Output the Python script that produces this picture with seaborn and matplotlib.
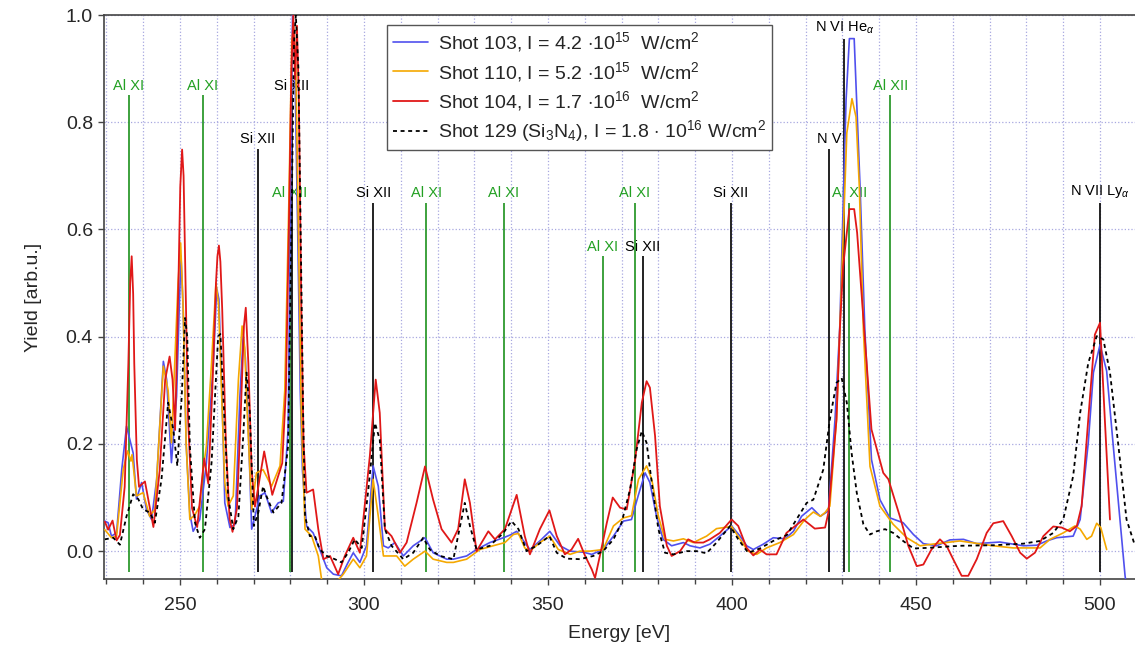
import seaborn as sns
import matplotlib.pyplot as plt
from matplotlib.ticker import MultipleLocator

# Spectra (energy in eV, yield in arb.u.)
blue_x = [229.6, 230.5, 231.4, 232.8, 234.2, 235.5, 236.4, 237.3, 238.2, 239.6, 240.9, 242.3, 243.7, 245.5,
          246.4, 247.7, 249.1, 249.8, 250.3, 250.9, 251.7, 252.7, 253.6, 255.4, 257.2, 259.1, 260.0, 260.6,
          261.4, 262.2, 263.6, 265.0, 266.3, 267.2, 267.8, 268.6, 269.5, 270.4, 271.7, 273.1, 274.9, 276.7,
          278.1, 279.4, 280.0, 280.6, 281.2, 282.0, 282.7, 283.3, 284.4, 286.2, 288.0, 289.9, 291.7, 293.9,
          295.7, 297.1, 298.9, 300.7, 302.5, 303.9, 305.3, 306.6, 308.4, 310.7, 313.4, 316.6, 318.8, 322.5,
          324.3, 327.9, 330.6, 334.2, 337.9, 339.7, 341.5, 343.7, 345.1, 347.8, 350.5, 353.3, 356.0, 359.6,
          361.9, 365.0, 367.8, 370.5, 372.7, 374.5, 376.4, 377.7, 379.5, 381.3, 383.6, 386.8, 388.6, 391.3,
          394.0, 396.7, 399.9, 402.2, 404.0, 405.8, 408.5, 411.2, 414.4, 416.7, 418.9, 421.7, 424.0, 426.2,
          428.0, 429.3, 431.0, 431.9, 433.2, 434.8, 436.1, 437.9, 440.2, 442.9, 446.5, 449.3, 452.0, 455.6,
          459.2, 462.9, 466.5, 472.8, 479.2, 482.8, 485.5, 488.2, 492.7, 494.6, 496.8, 498.2, 500.0, 501.8,
          503.6, 505.4, 506.8, 507.3]
blue_y = [0.056, 0.053, 0.028, 0.034, 0.152, 0.233, 0.208, 0.183, 0.097, 0.128, 0.078, 0.059, 0.134, 0.354,
          0.32, 0.165, 0.289, 0.45, 0.55, 0.45, 0.2, 0.07, 0.037, 0.059, 0.165, 0.351, 0.49, 0.47,
          0.3, 0.09, 0.044, 0.05, 0.289, 0.40, 0.36, 0.227, 0.041, 0.065, 0.103, 0.109, 0.072, 0.09,
          0.093, 0.227, 0.6, 1.0, 0.92, 0.6, 0.3, 0.15, 0.047, 0.034, 0.003, -0.031, -0.043, -0.046,
          -0.021, -0.003, -0.021, 0.01, 0.159, 0.121, 0.01, 0.006, 0.016, -0.009, 0.01, 0.025, -0.003, -0.015,
          -0.015, -0.009, 0.003, 0.016, 0.025, 0.03, 0.037, 0.016, 0.003, 0.019, 0.037, 0.01, 0.0, -0.002,
          -0.006, 0.003, 0.028, 0.056, 0.059, 0.103, 0.146, 0.128, 0.065, 0.022, 0.01, 0.016, 0.01, 0.006,
          0.013, 0.028, 0.047, 0.028, 0.01, 0.003, 0.013, 0.025, 0.023, 0.037, 0.065, 0.081, 0.065, 0.075,
          0.246, 0.42, 0.842, 0.956, 0.956, 0.68, 0.413, 0.171, 0.096, 0.062, 0.053, 0.031, 0.014, 0.01,
          0.021, 0.022, 0.014, 0.017, 0.01, 0.011, 0.019, 0.025, 0.028, 0.059, 0.202, 0.333, 0.385, 0.336,
          0.196, 0.059, -0.046, -0.07]

orange_x = [229.6, 231.4, 232.8, 234.6, 235.8, 236.7, 237.0, 238.2, 240.0, 241.8, 243.2, 245.5, 246.8, 247.7,
            248.6, 249.5, 250.2, 250.9, 251.7, 252.7, 254.1, 255.4, 256.3, 257.2, 258.6, 259.8, 260.5, 261.3,
            262.2, 263.1, 264.5, 265.9, 266.9, 267.6, 268.1, 269.5, 270.8, 272.6, 274.9, 277.2, 278.5, 279.6,
            280.4, 280.9, 281.5, 282.2, 283.0, 284.0, 285.8, 287.6, 288.5, 291.0, 294.4, 297.1, 298.9, 300.7,
            302.5, 303.9, 305.3, 308.9, 311.1, 313.4, 316.6, 318.8, 322.5, 324.3, 327.9, 331.5, 335.1, 338.3,
            340.6, 342.0, 343.7, 345.1, 347.8, 350.5, 352.8, 356.0, 358.7, 361.4, 365.0, 367.8, 370.5, 372.7,
            374.6, 376.8, 378.2, 380.0, 381.8, 384.1, 386.8, 389.5, 393.1, 395.8, 399.9, 402.2, 404.4, 406.7,
            409.4, 413.0, 416.7, 419.8, 422.1, 424.0, 425.3, 426.6, 428.4, 429.5, 431.2, 432.6, 433.7, 434.6,
            435.7, 437.5, 440.2, 443.8, 447.5, 451.1, 455.6, 461.9, 471.0, 476.4, 483.7, 486.4, 490.0, 493.2,
            494.6, 496.4, 497.7, 499.1, 500.2, 501.8]
orange_y = [0.04, 0.025, 0.028, 0.152, 0.187, 0.168, 0.18, 0.103, 0.109, 0.065, 0.078, 0.345, 0.30, 0.202,
            0.35, 0.5, 0.575, 0.45, 0.2, 0.059, 0.068, 0.084, 0.152, 0.196, 0.351, 0.5, 0.46, 0.3,
            0.128, 0.084, 0.103, 0.32, 0.42, 0.38, 0.289, 0.078, 0.146, 0.152, 0.121, 0.159, 0.3, 0.65,
            0.95, 0.98, 0.9, 0.6, 0.25, 0.041, 0.028, -0.009, -0.053, -0.07, -0.043, -0.015, -0.031, -0.009,
            0.134, 0.065, -0.009, -0.009, -0.028, -0.015, 0.0, -0.015, -0.021, -0.021, -0.015, 0.003, 0.01, 0.016,
            0.031, 0.033, 0.006, 0.0, 0.016, 0.028, 0.003, -0.006, 0.0, 0.0, 0.003, 0.047, 0.062, 0.066,
            0.134, 0.159, 0.134, 0.065, 0.022, 0.019, 0.023, 0.016, 0.028, 0.042, 0.046, 0.022, 0.0, -0.006,
            0.006, 0.016, 0.031, 0.059, 0.073, 0.065, 0.072, 0.084, 0.246, 0.45, 0.78, 0.844, 0.81, 0.68,
            0.413, 0.158, 0.084, 0.05, 0.025, 0.01, 0.014, 0.019, 0.01, 0.006, 0.006, 0.022, 0.034, 0.047,
            0.041, 0.022, 0.028, 0.052, 0.044, 0.003]

red_x = [229.6, 230.5, 231.7, 232.8, 233.7, 235.0, 236.0, 236.5, 236.9, 237.3, 237.6, 238.3, 238.9, 240.5,
         242.8, 244.5, 246.0, 247.2, 248.0, 248.7, 249.6, 250.1, 250.6, 251.0, 251.4, 252.2, 253.3, 254.7,
         256.6, 257.7, 258.8, 259.8, 260.2, 260.6, 261.0, 261.5, 262.5, 263.5, 264.3, 265.5, 266.5, 267.4,
         267.9, 268.6, 269.5, 270.4, 272.9, 275.1, 277.8, 278.8, 279.6, 280.3, 280.8, 281.3, 281.8, 282.3,
         283.0, 283.6, 284.4, 286.2, 287.6, 289.0, 290.8, 293.0, 294.8, 297.1, 298.9, 301.6, 303.2, 304.3,
         305.7, 307.5, 309.8, 311.6, 314.3, 316.6, 318.8, 321.1, 323.8, 325.6, 327.4, 328.8, 330.6, 333.8,
         335.6, 338.3, 341.5, 343.7, 345.1, 347.8, 350.4, 352.4, 354.6, 356.4, 358.2, 360.1, 361.9, 362.8,
         364.1, 366.0, 367.6, 369.6, 371.4, 373.6, 375.5, 376.8, 377.7, 379.1, 380.4, 382.3, 383.6, 385.9,
         388.1, 389.9, 392.2, 394.0, 396.7, 399.9, 401.7, 404.0, 405.8, 407.6, 409.4, 412.1, 414.8, 419.4,
         422.5, 425.3, 426.2, 428.4, 429.3, 430.2, 431.9, 433.2, 434.0, 435.0, 435.7, 437.9, 441.1, 442.5,
         445.6, 447.9, 450.2, 452.0, 454.2, 456.5, 458.3, 460.1, 462.4, 464.2, 466.5, 469.2, 471.0, 473.7,
         476.0, 478.3, 480.1, 482.3, 484.6, 487.3, 489.6, 491.8, 493.7, 495.0, 496.8, 498.6, 500.0, 501.3,
         502.7]
red_y = [0.055, 0.04, 0.057, 0.02, 0.03, 0.12, 0.35, 0.50, 0.55, 0.48, 0.35, 0.17, 0.12, 0.13,
         0.045, 0.15, 0.32, 0.363, 0.32, 0.226, 0.5, 0.68, 0.749, 0.70, 0.55, 0.25, 0.08, 0.045,
         0.173, 0.126, 0.3, 0.5, 0.55, 0.57, 0.54, 0.45, 0.2, 0.06, 0.036, 0.08, 0.25, 0.42,
         0.454, 0.35, 0.15, 0.083, 0.186, 0.105, 0.164, 0.3, 0.6, 0.9, 1.0, 0.88, 0.98, 0.85,
         0.45, 0.2, 0.109, 0.115, 0.041, -0.015, -0.009, -0.043, -0.009, 0.025, -0.003, 0.177, 0.32, 0.258,
         0.041, 0.028, -0.003, 0.016, 0.09, 0.158, 0.096, 0.041, 0.016, 0.041, 0.134, 0.09, 0.0, 0.037,
         0.022, 0.041, 0.105, 0.028, -0.006, 0.041, 0.076, 0.028, -0.006, 0.003, 0.023, -0.009, -0.034, -0.05,
         -0.009, 0.053, 0.10, 0.081, 0.078, 0.165, 0.277, 0.317, 0.305, 0.215, 0.084, 0.01, -0.009, 0.0,
         0.022, 0.016, 0.016, 0.022, 0.034, 0.059, 0.047, 0.006, -0.008, 0.003, -0.006, -0.006, 0.034, 0.059,
         0.042, 0.044, 0.072, 0.246, 0.413, 0.531, 0.638, 0.638, 0.594, 0.50, 0.432, 0.227, 0.146, 0.134,
         0.065, 0.01, -0.028, -0.025, 0.003, 0.022, 0.01, -0.015, -0.046, -0.046, -0.015, 0.034, 0.052, 0.056,
         0.028, -0.003, -0.014, -0.003, 0.028, 0.046, 0.044, 0.037, 0.047, 0.084, 0.246, 0.404, 0.426, 0.246,
         0.059]

black_x = [229.6, 231.9, 233.7, 235.5, 237.3, 238.7, 240.0, 241.8, 243.2, 245.0, 246.8, 248.2, 249.3, 250.5,
           251.4, 252.0, 252.7, 254.1, 255.4, 256.8, 258.6, 260.4, 261.0, 261.8, 263.1, 264.5, 265.9, 267.2,
           268.1, 269.0, 270.1, 271.3, 272.6, 273.5, 275.4, 277.6, 279.4, 280.3, 281.0, 281.5, 282.2, 282.8,
           283.5, 284.0, 285.3, 286.7, 288.0, 289.9, 292.1, 293.9, 295.7, 297.5, 299.4, 301.2, 303.0, 304.3,
           305.7, 307.5, 310.7, 313.4, 316.1, 317.9, 320.7, 324.3, 327.4, 328.8, 330.6, 334.2, 337.9, 340.1,
           342.0, 344.2, 346.9, 350.4, 352.4, 355.1, 358.7, 362.3, 365.0, 367.8, 370.0, 372.3, 374.1, 375.5,
           376.8, 378.2, 380.0, 381.8, 384.1, 387.7, 390.4, 393.1, 395.8, 399.5, 401.7, 404.4, 407.6, 411.2,
           414.9, 417.6, 420.3, 422.1, 424.8, 426.6, 428.4, 429.8, 431.2, 432.5, 433.9, 435.7, 437.5, 439.3,
           441.6, 443.8, 446.5, 449.3, 452.9, 461.9, 471.0, 479.2, 483.7, 487.3, 490.0, 492.7, 494.6, 496.8,
           499.1, 500.9, 502.7, 505.0, 507.2, 509.5]
black_y = [0.022, 0.025, 0.012, 0.065, 0.106, 0.097, 0.078, 0.072, 0.053, 0.134, 0.277, 0.227, 0.159, 0.289,
           0.435, 0.40, 0.196, 0.053, 0.025, 0.041, 0.165, 0.401, 0.405, 0.289, 0.103, 0.041, 0.065, 0.214,
           0.333, 0.258, 0.047, 0.072, 0.121, 0.103, 0.072, 0.09, 0.196, 0.6, 0.95, 1.0, 0.9, 0.6,
           0.25, 0.065, 0.028, 0.028, 0.003, -0.009, -0.015, -0.021, -0.003, 0.022, 0.006, 0.115, 0.239, 0.208,
           0.041, 0.01, -0.015, -0.003, 0.025, 0.003, -0.009, -0.015, 0.09, 0.047, 0.003, 0.01, 0.034, 0.056,
           0.041, 0.0, 0.01, 0.028, -0.003, -0.014, -0.015, -0.009, 0.0, 0.022, 0.053, 0.115, 0.19, 0.224,
           0.202, 0.128, 0.041, -0.003, -0.006, 0.0, 0.0, -0.004, 0.016, 0.047, 0.022, -0.003, 0.005, 0.019,
           0.03, 0.06, 0.09, 0.096, 0.152, 0.246, 0.314, 0.323, 0.277, 0.183, 0.109, 0.05, 0.031, 0.037,
           0.041, 0.034, 0.019, 0.005, 0.006, 0.01, 0.011, 0.014, 0.019, 0.034, 0.059, 0.14, 0.258, 0.351,
           0.401, 0.395, 0.333, 0.196, 0.059, 0.01]

series_labels = [r"Shot 103, I = 4.2 $\cdot$10$^{15}$  W/cm$^2$",
                 r"Shot 110, I = 5.2 $\cdot$10$^{15}$  W/cm$^2$",
                 r"Shot 104, I = 1.7 $\cdot$10$^{16}$  W/cm$^2$",
                 r"Shot 129 (Si$_3$N$_4$), I = 1.8 $\cdot$ 10$^{16}$ W/cm$^2$"]

# Emission line markers
line_ev = [236.1, 256.2, 271.1, 280.4, 279.8, 302.5, 316.9, 338.0, 364.9, 373.6, 375.8, 399.6,
           426.4, 430.5, 431.9, 443.0, 500.1]
line_top = [0.85, 0.85, 0.75, 0.85, 0.65, 0.65, 0.65, 0.65, 0.55, 0.65, 0.55, 0.65,
            0.75, 0.955, 0.65, 0.85, 0.65]
line_label = ["Al XI", "Al XI", "Si XII", "Si XII", "Al XII", "Si XII", "Al XI", "Al XI", "Al XI", "Al XI",
              "Si XII", "Si XII", "N V", r"N VI He$_\alpha$", "Al XII", "Al XII", r"N VII Ly$_\alpha$"]

sns.set_theme(style="ticks")
plt.rcParams['font.family'] = ['Liberation Sans', 'DejaVu Sans']
plt.rcParams['mathtext.fontset'] = 'custom'
plt.rcParams['mathtext.rm'] = 'Liberation Sans'
plt.rcParams['mathtext.it'] = 'Liberation Sans:italic'

fig = plt.figure(figsize=(11.35, 6.45), dpi=100)
ax = fig.add_axes([0.0917, 0.1023, 0.9083, 0.8744])

green = "#2e9a2e"
for ev, top, lab in zip(line_ev, line_top, line_label):
    col = green if lab.startswith("Al") else "#111111"
    ax.vlines(ev, -0.038, top, color=col, lw=1.3, zorder=2)
    ax.annotate(lab, (ev, top), xytext=(0, 2), textcoords="offset points",
                ha="center", va="bottom", fontsize=10.5,
                color="#22a022" if lab.startswith("Al") else "black", zorder=1)

sns.lineplot(x=blue_x, y=blue_y, sort=False, estimator=None, color="#5050ee", lw=1.2, ax=ax, zorder=3)
sns.lineplot(x=orange_x, y=orange_y, sort=False, estimator=None, color="#f5a800", lw=1.2, ax=ax, zorder=3)
sns.lineplot(x=red_x, y=red_y, sort=False, estimator=None, color="#e01818", lw=1.3, ax=ax, zorder=4)
sns.lineplot(x=black_x, y=black_y, sort=False, estimator=None, color="black", lw=1.3,
             linestyle=(0, (2.2, 2.0)), ax=ax, zorder=5)

lines = ax.get_lines()[-4:]
ax.legend(lines, series_labels, loc="upper left", bbox_to_anchor=(0.2745, 0.983),
          fontsize=14, frameon=True, fancybox=False, edgecolor="#555555", framealpha=1,
          handlelength=1.8, handletextpad=0.5, labelspacing=0.28, borderaxespad=0, borderpad=0.3)

ax.set_xlim(229.4, 509.5)
ax.set_ylim(-0.052, 1.0)
ax.xaxis.set_major_locator(MultipleLocator(50))
ax.xaxis.set_minor_locator(MultipleLocator(10))
ax.yaxis.set_major_locator(MultipleLocator(0.2))
ax.yaxis.set_major_formatter(plt.FormatStrFormatter("%.1f"))
ax.grid(which="major", color="#a8a8e0", linestyle=":", lw=0.9)
ax.grid(which="minor", axis="x", color="#a8a8e0", linestyle=":", lw=0.9)
ax.tick_params(which="major", length=4, width=1, labelsize=14, color="#444444")
ax.tick_params(axis="x", which="major", pad=9)
ax.tick_params(axis="y", which="major", pad=4)
ax.tick_params(which="minor", length=3.5, width=1, color="#444444")
for side in ["left", "bottom", "top"]:
    ax.spines[side].set_color("#444444")
    ax.spines[side].set_linewidth(1.2)
ax.spines["right"].set_visible(False)

ax.set_xlabel("Energy [eV]", fontsize=14, labelpad=8)
ax.set_ylabel("Yield [arb.u.]", fontsize=14, labelpad=17)

fig.savefig("out.png", dpi=100)
